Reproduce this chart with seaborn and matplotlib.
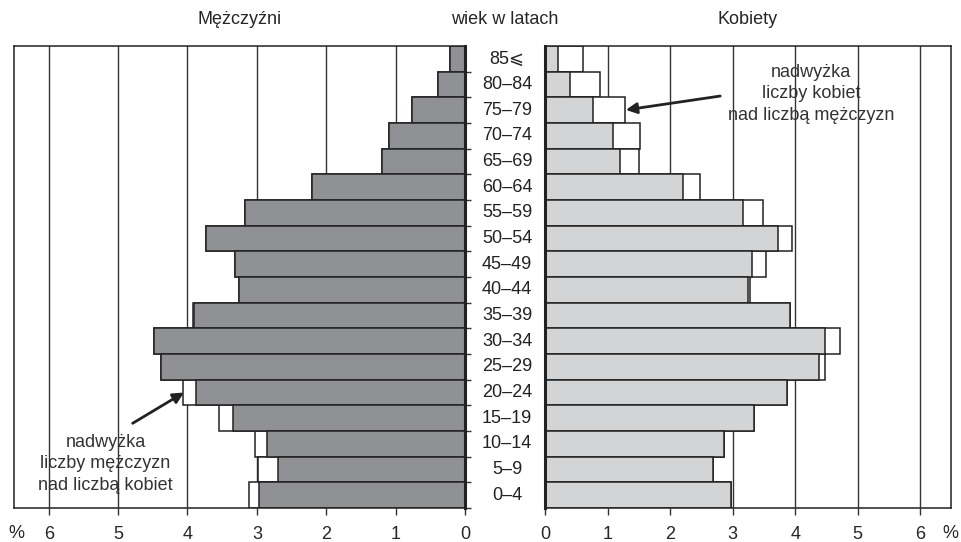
import numpy as np
import pandas as pd
import seaborn as sns
import matplotlib.pyplot as plt
from matplotlib import transforms

# age groups, youngest first
ages = ["0–4", "5–9", "10–14", "15–19", "20–24", "25–29", "30–34", "35–39",
        "40–44", "45–49", "50–54", "55–59", "60–64", "65–69", "70–74",
        "75–79", "80–84", "85⩽"]
# share of population in %
men = [3.12, 2.98, 3.03, 3.54, 4.07, 4.38, 4.48, 3.92, 3.25, 3.31,
       3.73, 3.17, 2.21, 1.20, 1.09, 0.76, 0.39, 0.21]
women = [2.97, 2.69, 2.86, 3.34, 3.87, 4.48, 4.72, 3.91, 3.27, 3.54,
         3.95, 3.48, 2.48, 1.50, 1.52, 1.27, 0.88, 0.61]

df = pd.DataFrame({"age": ages, "men": men, "women": women})
df["common"] = np.minimum(df.men, df.women)
order = ages[::-1]  # oldest at top

sns.set_style("white")
plt.rcParams['font.family'] = ['Liberation Sans', 'DejaVu Sans']
plt.rcParams['font.size'] = 13

dark = "#909195"
light = "#d3d4d6"
edge = "#222222"

fig = plt.figure(figsize=(9.62, 5.42), dpi=100)
ax_l = fig.add_axes([14/962, 34/542, 451/962, 462/542])
ax_r = fig.add_axes([545.3/962, 34/542, 406/962, 462/542])

bar_kw = dict(orient="h", order=order, width=1.0, saturation=1,
              edgecolor=edge, linewidth=1.1, errorbar=None)

# men: white surplus bar under the common (dark) part
sns.barplot(data=df, x="men", y="age", color="white", ax=ax_l, **bar_kw)
sns.barplot(data=df, x="common", y="age", color=dark, ax=ax_l, **bar_kw)
# women
sns.barplot(data=df, x="women", y="age", color="white", ax=ax_r, **bar_kw)
sns.barplot(data=df, x="common", y="age", color=light, ax=ax_r, **bar_kw)

bounds = [i + 0.5 for i in range(len(ages))]
for ax in (ax_l, ax_r):
    ax.set_ylim(len(ages) - 0.5, -0.5)
    ax.set_xticks(range(7))
    ax.set_xticklabels([str(i) for i in range(7)])
    ax.set_yticks(bounds)
    ax.set_yticklabels([])
    ax.set_xlabel("")
    ax.set_ylabel("")
    ax.grid(axis="x", color="#333333", lw=1)
    ax.set_axisbelow(True)
    ax.tick_params(axis="x", direction="out", length=5, width=1,
                   color="#333333", pad=8, labelsize=13, bottom=True)
    ax.tick_params(axis="y", direction="out", length=4, width=1, color="#333333")
    for s in ax.spines.values():
        s.set_visible(True)
        s.set_color(edge)
        s.set_linewidth(1.1)

ax_l.set_xlim(6.5, 0)
ax_r.set_xlim(0, 6.5)
ax_l.yaxis.tick_right()
ax_l.spines["right"].set_linewidth(2.2)
ax_r.spines["left"].set_linewidth(2.2)

# age labels between the two halves
tr = transforms.blended_transform_factory(ax_r.transAxes, ax_r.transData)
for a in ages:
    ax_r.text(-0.094, order.index(a), a, transform=tr, ha="center",
              va="center", fontsize=13, color="#222222")

# headers and units
fig.text(240/962, 1 - 20/542, "Mężczyźni", ha="center", va="center", fontsize=13)
fig.text(505/962, 1 - 20/542, "wiek w latach", ha="center", va="center", fontsize=13)
fig.text(748/962, 1 - 20/542, "Kobiety", ha="center", va="center", fontsize=13)
fig.text(16/962, 1 - 533/542, "%", ha="center", va="center", fontsize=13)
fig.text(950/962, 1 - 533/542, "%", ha="center", va="center", fontsize=13)

arrow = dict(arrowstyle="-|>", lw=2, color="#222222", mutation_scale=16,
             shrinkA=0, shrinkB=0)
ax_l.annotate("", xy=(4.05, 13.0), xytext=(4.79, 14.2), arrowprops=arrow)
ax_l.text(5.18, 15.78, "nadwyżka\nliczby mężczyzn\nnad liczbą kobiet",
          ha="center", va="center", fontsize=13, linespacing=1.35,
          color="#333333")
ax_r.annotate("", xy=(1.29, 1.99), xytext=(2.80, 1.45), arrowprops=arrow)
ax_r.text(4.25, 1.37, "nadwyżka\nliczby kobiet\nnad liczbą mężczyzn",
          ha="center", va="center", fontsize=13, linespacing=1.35,
          color="#333333")

plt.savefig("out.png", dpi=100)
